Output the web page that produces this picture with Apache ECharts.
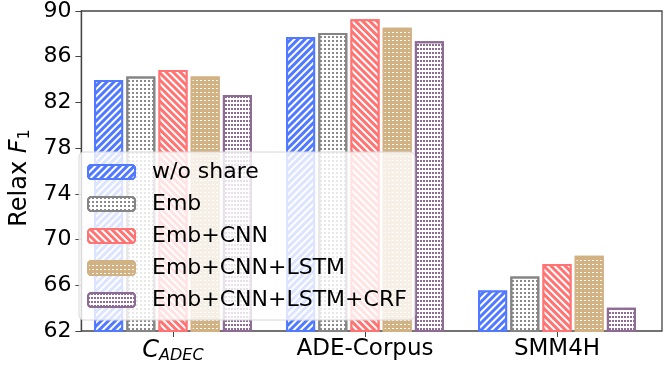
<!DOCTYPE html>
<html>
<head>
<meta charset="utf-8">
<script src="https://cdn.jsdelivr.net/npm/echarts@6/dist/echarts.min.js"></script>
<style>
  html, body { margin: 0; padding: 0; background: #fff; }
  #chart { width: 665px; height: 366px; }
</style>
</head>
<body>
<div id="chart"></div>
<script>
  var categories = ['C_ADEC', 'ADE-Corpus', 'SMM4H'];
  var seriesNames = ['w/o share', 'Emb', 'Emb+CNN', 'Emb+CNN+LSTM', 'Emb+CNN+LSTM+CRF'];
  var woShare = [83.7, 87.4, 65.5];
  var emb = [84.0, 87.75, 66.7];
  var embCnn = [84.55, 88.95, 67.8];
  var embCnnLstm = [84.0, 88.2, 68.5];
  var embCnnLstmCrf = [82.4, 87.05, 64.0];
  var yTicks = [62, 66, 70, 74, 78, 82, 86, 90];

  var values = [woShare, emb, embCnn, embCnnLstm, embCnnLstmCrf];
  var styles = [
    { color: '#5079ff', borderColor: '#5079ff',
      decal: { symbol: 'rect', symbolSize: 1, color: '#ffffff', dashArrayX: [1, 0], dashArrayY: [2, 3], rotation: -Math.PI / 4 } },
    { color: '#ffffff', borderColor: '#858585',
      decal: { symbol: 'rect', symbolSize: 1, color: '#8a8a8a', dashArrayX: [2, 2], dashArrayY: [2, 2], rotation: 0 } },
    { color: '#ff7373', borderColor: '#ff7373',
      decal: { symbol: 'rect', symbolSize: 1, color: '#ffffff', dashArrayX: [1, 0], dashArrayY: [2, 3], rotation: Math.PI / 4 } },
    { color: '#d2b183', borderColor: '#d2b183',
      decal: { symbol: 'rect', symbolSize: 1, color: '#ffffff', dashArrayX: [2, 2], dashArrayY: [1, 3], rotation: 0 } },
    { color: '#ffffff', borderColor: '#8e6b94',
      decal: { symbol: 'rect', symbolSize: 1, color: '#8e6b94', dashArrayX: [2, 1], dashArrayY: [2, 2], rotation: 0 } }
  ];

  var font = 'DejaVu Sans';
  var axisColor = '#444';

  // frame grid (0) holds the y axis and the box; bar grid (1) is narrower so
  // the category centres land where matplotlib put them
  var series = seriesNames.map(function(name, i) {
    return {
      name: name,
      type: 'bar',
      xAxisIndex: 1,
      yAxisIndex: 1,
      barWidth: 29,
      barGap: '11%',
      itemStyle: {
        color: styles[i].color,
        borderColor: styles[i].borderColor,
        borderWidth: 2,
        decal: styles[i].decal
      },
      data: values[i]
    };
  });

  var chart = echarts.init(document.getElementById('chart'), null, { renderer: 'canvas' });
  chart.setOption({
    animation: false,
    grid: [
      { left: 68, right: 3, top: 7, bottom: 35, show: true, borderColor: axisColor, borderWidth: 1.3 },
      { left: 77, width: 576, top: 7, bottom: 35 }
    ],
    legend: {
      data: seriesNames,
      orient: 'vertical',
      left: 79,
      top: 152,
      padding: [9, 8, 9, 8],
      itemWidth: 47,
      itemHeight: 14,
      itemGap: 10,
      backgroundColor: 'rgba(255,255,255,0.8)',
      borderColor: '#d6d6d6',
      borderWidth: 1,
      borderRadius: 5,
      textStyle: { fontFamily: font, fontSize: 22, color: '#000', padding: [0, 0, 0, 12] }
    },
    xAxis: [
      { type: 'value', gridIndex: 0, min: 0, max: 1, show: false },
      {
        type: 'category',
        gridIndex: 1,
        data: categories,
        axisLine: { show: false },
        axisTick: { show: true, alignWithLabel: true, length: 6, lineStyle: { color: axisColor } },
        axisLabel: {
          interval: 0,
          margin: 7,
          fontFamily: font,
          fontSize: 23,
          color: '#000',
          formatter: function(name) {
            if (name === 'C_ADEC') return '{i|C}{sub|ADEC}';
            return name;
          },
          rich: {
            i: { fontFamily: font, fontSize: 24, fontStyle: 'italic', color: '#000' },
            sub: { fontFamily: font, fontSize: 16, fontStyle: 'italic', color: '#000', padding: [10, 0, 0, 0] }
          }
        }
      }
    ],
    yAxis: [
      {
        type: 'value',
        gridIndex: 0,
        min: yTicks[0],
        max: yTicks[yTicks.length - 1],
        interval: 4,
        splitLine: { show: false },
        axisLine: { show: true, onZero: false, lineStyle: { color: axisColor, width: 1.3 } },
        axisTick: { show: true, length: 6, lineStyle: { color: axisColor } },
        axisLabel: { margin: 10, fontFamily: font, fontSize: 22, color: '#000' },
        name: '{t|Relax }{i|F}{sub|1}',
        nameLocation: 'middle',
        nameRotate: 90,
        nameGap: 42,
        nameTextStyle: {
          padding: [0, 14, 0, 0],
          rich: {
            t: { fontFamily: font, fontSize: 24, color: '#000' },
            i: { fontFamily: font, fontSize: 24, fontStyle: 'italic', color: '#000' },
            sub: { fontFamily: font, fontSize: 16, color: '#000', padding: [9, 0, 0, 0] }
          }
        }
      },
      {
        type: 'value',
        gridIndex: 1,
        min: yTicks[0],
        max: yTicks[yTicks.length - 1],
        interval: 4,
        show: false
      }
    ],
    series: series
  });
</script>
</body>
</html>
